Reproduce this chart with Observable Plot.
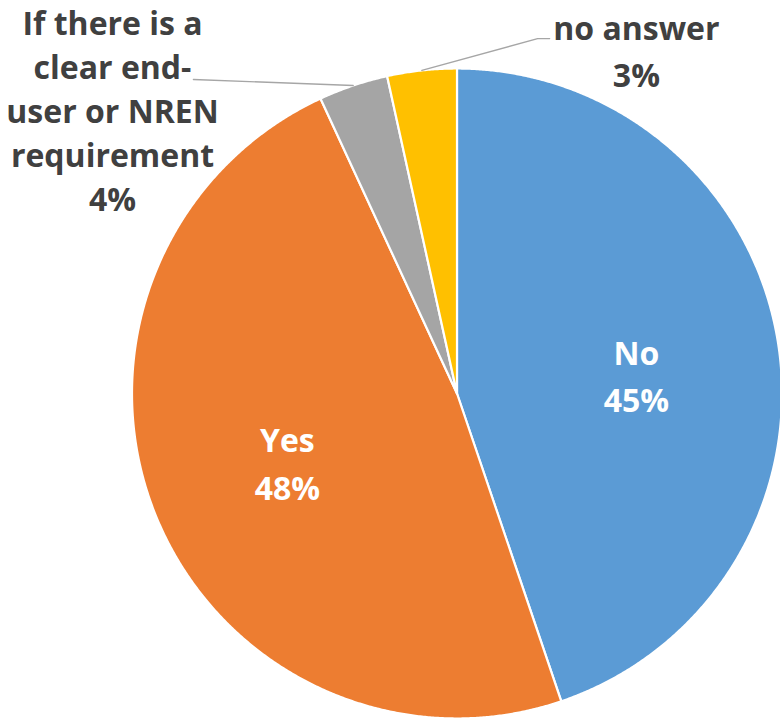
<!DOCTYPE html>
<html>
<head>
<meta charset="utf-8">
<script src="https://cdn.jsdelivr.net/npm/d3@7"></script>
<script src="https://cdn.jsdelivr.net/npm/@observablehq/plot@0.6"></script>
<style>
  html, body { margin: 0; padding: 0; background: #fff; }
  #chart { width: 780px; height: 720px; }
</style>
</head>
<body>
<div id="chart"></div>
<script>
// ---- data ----
const categories = ["No", "Yes", "If there is a clear end-user or NREN requirement", "no answer"];
const shares = [44.8, 48.3, 3.45, 3.45];          // slice sizes (percent)
const percentLabels = ["45%", "48%", "4%", "3%"];  // printed labels
const labelText = ["No", "Yes", "If there is a\nclear end-\nuser or NREN\nrequirement", "no answer"];
const colors = ["#5B9BD5", "#ED7D31", "#A5A5A5", "#FFC000"];

// ---- layout (data units: pie radius = 1, centre = 0,0) ----
const layout = [
  {inside: true,  x: 0.552, y: -0.058, lh: 47},
  {inside: true,  x: -0.522, y: -0.329, lh: 48},
  {inside: false, x: -1.06, y: 0.563, lh: 44, leader: [[-0.811, 0.966]]},
  {inside: false, x: 0.552, y: 0.942, lh: 47, leader: [[0.248, 1.092], [0.285, 1.092]]}
];

const pie = d3.pie().sort(null).value(d => d.value)(
  categories.map((c, i) => ({key: c, value: shares[i], i}))
);

// slice outlines
const slicePts = [];
for (const a of pie) {
  const k = a.data.key;
  slicePts.push({key: k, x: 0, y: 0});
  const n = Math.max(2, Math.ceil((a.endAngle - a.startAngle) / 0.005));
  for (let j = 0; j <= n; j++) {
    const t = a.startAngle + (a.endAngle - a.startAngle) * j / n;
    slicePts.push({key: k, x: Math.sin(t), y: Math.cos(t)});
  }
  slicePts.push({key: k, x: 0, y: 0});
}

// leader lines
const leaderPts = [];
pie.forEach((a, i) => {
  const L = layout[i];
  if (!L.leader) return;
  const m = (a.startAngle + a.endAngle) / 2;
  leaderPts.push({key: a.data.key, x: Math.sin(m), y: Math.cos(m)});
  for (const p of L.leader) leaderPts.push({key: a.data.key, x: p[0], y: p[1]});
});

const labels = pie.map((a, i) => ({
  key: a.data.key,
  text: labelText[i] + "\n" + percentLabels[i],
  x: layout[i].x, y: layout[i].y, inside: layout[i].inside, lh: layout[i].lh
}));

const R = 325, cx = 456.5, cy = 393;
const font = "'Open Sans', sans-serif";
const fs = 32;

const textMark = (data, fill, lh) => Plot.text(data, {
  x: "x", y: "y", text: "text", fill, fontSize: fs, fontWeight: 700,
  fontFamily: font, textAnchor: "middle", lineAnchor: "bottom", lineHeight: lh / fs
});

const chart = Plot.plot({
  width: 780,
  height: 720,
  margin: 0,
  x: {domain: [-1, 1], range: [cx - R, cx + R], axis: null},
  y: {domain: [-1, 1], range: [cy + R, cy - R], axis: null},
  color: {domain: categories, range: colors},
  style: {background: "#fff", overflow: "visible"},
  marks: [
    Plot.line(slicePts, {x: "x", y: "y", z: "key", fill: "key", stroke: "#fff", strokeWidth: 2.2, strokeLinejoin: "round", curve: "linear"}),
    Plot.line(leaderPts, {x: "x", y: "y", z: "key", stroke: "#a6a6a6", strokeWidth: 1.4}),
    ...labels.map(l => textMark([l], l.inside ? "#ffffff" : "#404040", l.lh))
  ]
});
document.getElementById("chart").appendChild(chart);
</script>
</body>
</html>
